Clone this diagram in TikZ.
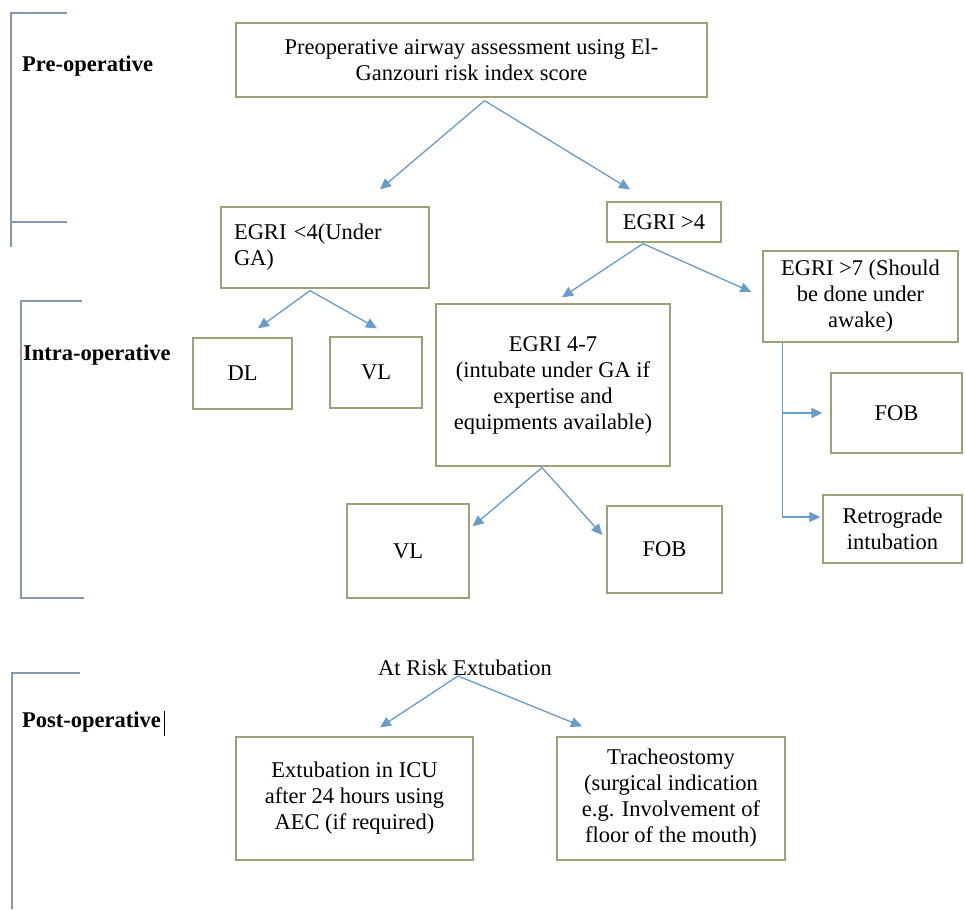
\documentclass[tikz,border=0pt]{standalone}
\usepackage{fontspec}
\setmainfont{Liberation Serif}
\usetikzlibrary{arrows.meta,calc}
\definecolor{boxc}{RGB}{155,163,118}
\definecolor{arrc}{RGB}{104,156,204}
\definecolor{brk}{RGB}{135,152,175}
\begin{document}
\begin{tikzpicture}[x=1pt,y=-1pt,
  font=\fontsize{22.5}{26}\selectfont,
  box/.style={draw=boxc, line width=1.3pt, inner sep=0pt, align=center},
  arr/.style={draw=arrc, line width=1.3pt, -{Triangle[length=11pt,width=10pt]}},
  brkt/.style={draw=brk, line width=1.6pt},
  lbl/.style={font=\fontsize{22.5}{26}\selectfont\bfseries, anchor=base west, inner sep=0pt}]
\useasboundingbox (0,0) rectangle (965,909);

% brackets and phase labels
\draw[brkt] (67,13) -- (11,13) -- (11,247);
\draw[brkt] (11,222) -- (67,222);
\draw[brkt] (82,301) -- (21,301) -- (21,598) -- (84,598);
\draw[brkt] (80,673) -- (12,673) -- (12,909);
\node[lbl] (pre) at (22,72) {Pre-operative};
\node[lbl] (intra) at (23,360) {Intra-operative};
\node[lbl] (post) at (22,727) {Post-operative};
\draw[line width=0.9pt] ($(post.base east)+(3,-16)$) -- ($(post.base east)+(3,9)$);

% boxes
\node[box, minimum width=471pt, minimum height=74pt] (top) at (471.5,60)
  {Preoperative airway assessment using El-\\Ganzouri risk index score};
\node[box, minimum width=208pt, minimum height=81pt, align=left, text width=182pt] (lt4) at (325,247.5)
  {EGRI <4(Under\\GA)};
\node[box, minimum width=114pt, minimum height=40pt] (gt4) at (664,222) {EGRI >4};
\node[box, minimum width=99pt, minimum height=71pt] (dl) at (242.5,373.5) {DL};
\node[box, minimum width=92pt, minimum height=71pt] (vl1) at (376,372.5) {VL};
\node[box, minimum width=234pt, minimum height=162pt] (e47) at (553,385)
  {EGRI 4-7\\(intubate under GA if\\expertise and\\equipments available)};
\node[box, minimum width=195pt, minimum height=91pt] (gt7) at (860.5,296.5)
  {EGRI >7 (Should\\be done under\\awake)};
\node[box, minimum width=122pt, minimum height=94pt] (vl2) at (408,551) {VL};
\node[box, minimum width=115pt, minimum height=87pt] (fob2) at (664.5,549.5) {FOB};
\node[box, minimum width=131pt, minimum height=80pt] (fob3) at (896.5,413) {FOB};
\node[box, minimum width=139pt, minimum height=68pt] (retro) at (892.5,529) {Retrograde\\intubation};
\node[inner sep=0pt, anchor=base] (risk) at (465,675) {At Risk Extubation};
\node[box, minimum width=237pt, minimum height=123pt] (ext) at (354.5,798.5)
  {Extubation in ICU\\after 24 hours using\\AEC (if required)};
\node[box, minimum width=228pt, minimum height=123pt] (trach) at (671,798.5)
  {Tracheostomy\\(surgical indication\\e.g. Involvement of\\floor of the mouth)};

% connectors
\draw[arr] ($(top.south)+(13,3)$) -- ($(lt4.north)+(55,-17)$);
\draw[arr] ($(top.south)+(13,3)$) -- ($(gt4.north)+(-34,-12)$);
\draw[arr] ($(lt4.south)+(-15,2)$) -- ($(dl.north)+(15.5,-9)$);
\draw[arr] ($(lt4.south)+(-15,2)$) -- ($(vl1.north)+(1,-8)$);
\draw[arr] ($(gt4.south)+(-21,1)$) -- ($(e47.north)+(9,-6)$);
\draw[arr] ($(gt4.south)+(-21,1)$) -- ($(gt7.west)+(-11,-4.5)$);
\draw[arr] ($(e47.south)+(-11,1)$) -- ($(vl2.north east)+(3,23)$);
\draw[arr] ($(e47.south)+(-11,1)$) -- ($(fob2.west)+(-4,-14.5)$);
\coordinate (br) at ($(gt7.south west)+(20,0)$);
\draw[arr] (br) |- ($(retro.west)+(-2,-12)$);
\draw[arr] (br |- fob3.west) -- ($(fob3.west)+(-8,0)$);
\draw[arr] ($(risk.base)+(-7,1)$) -- ($(ext.north)+(25.5,-9)$);
\draw[arr] ($(risk.base)+(-7,1)$) -- ($(trach.north)+(-89,-10)$);
\end{tikzpicture}
\end{document}
